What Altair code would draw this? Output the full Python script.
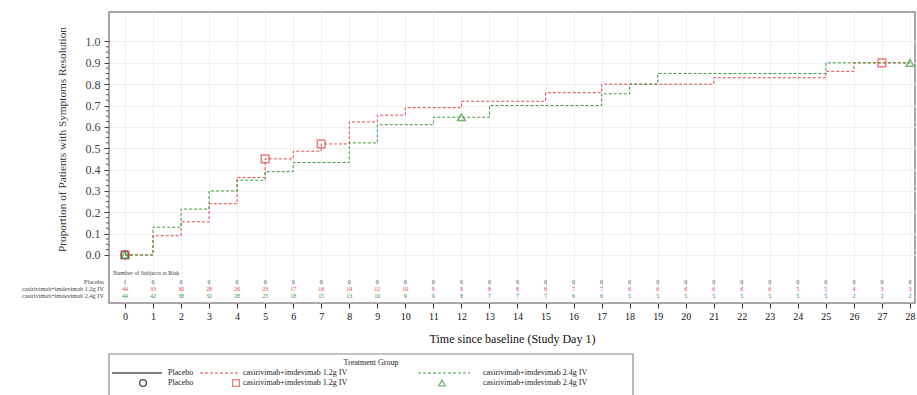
import altair as alt
import pandas as pd

G0 = "Placebo"
G1 = "casirivimab+imdevimab 1.2g IV"
G2 = "casirivimab+imdevimab 2.4g IV"
groups = [G0, G1, G2]
colors = ["#000000", "#e8464b", "#3c9c3c"]

days = list(range(0, 29))
placebo_days = [0, 0]
placebo_vals = [0.0, 0.0]
red_days = [0, 1, 2, 3, 4, 5, 6, 7, 8, 9, 10, 12, 15, 17, 21, 25, 26, 28]
red_vals = [0, 0.09, 0.155, 0.24, 0.363, 0.45, 0.486, 0.52, 0.623, 0.655, 0.69, 0.72, 0.76,
            0.80, 0.83, 0.86, 0.90, 0.90]
green_days = [0, 1, 2, 3, 4, 5, 6, 8, 9, 11, 13, 17, 18, 19, 25, 28]
green_vals = [0, 0.13, 0.215, 0.30, 0.35, 0.39, 0.433, 0.525, 0.61, 0.645, 0.70, 0.755,
              0.80, 0.85, 0.90, 0.90]

placebo_mark_days = [0]
placebo_mark_vals = [0.0]
red_mark_days = [0, 5, 7, 27]
red_mark_vals = [0.0, 0.45, 0.52, 0.90]
green_mark_days = [0, 12, 28]
green_mark_vals = [0.0, 0.645, 0.90]

risk_placebo = [1] + [0] * 28
risk_red = [44, 33, 30, 28, 26, 23, 17, 16, 14, 12, 10, 9, 9, 8, 8, 8, 7, 7, 6, 6, 6, 6, 6, 6,
            5, 5, 4, 3, 3]
risk_green = [44, 42, 38, 32, 28, 25, 18, 15, 13, 10, 9, 9, 8, 7, 7, 7, 6, 6, 5, 5, 5, 5, 5, 5,
              5, 5, 2, 2, 2]

y_ticks = [0.0, 0.1, 0.2, 0.3, 0.4, 0.5, 0.6, 0.7, 0.8, 0.9, 1.0]
y_minor = [0.025, 0.05, 0.075, 0.125, 0.15, 0.175, 0.225, 0.25, 0.275, 0.325, 0.35, 0.375,
           0.425, 0.45, 0.475, 0.525, 0.55, 0.575, 0.625, 0.65, 0.675, 0.725, 0.75, 0.775,
           0.825, 0.85, 0.875, 0.925, 0.95, 0.975]

FONT = "Liberation Serif"
W, H = 806, 291

lines_df = pd.DataFrame({
    "day": placebo_days + red_days + green_days,
    "p": placebo_vals + red_vals + green_vals,
    "group": [G0] * len(placebo_days) + [G1] * len(red_days) + [G2] * len(green_days),
})
marks_df = pd.DataFrame({
    "day": placebo_mark_days + red_mark_days + green_mark_days,
    "p": placebo_mark_vals + red_mark_vals + green_mark_vals,
    "group": [G0] * len(placebo_mark_days) + [G1] * len(red_mark_days) + [G2] * len(green_mark_days),
})

xscale = alt.Scale(domain=[-0.57, 28.18], nice=False, zero=False)
yscale = alt.Scale(domain=[-0.225, 1.138], nice=False, zero=False)
cscale = alt.Scale(domain=groups, range=colors)

x_axis = alt.Axis(values=days, format="d", title="Time since baseline (Study Day 1)",
                  titleFont=FONT, titleFontSize=12, titleFontWeight="normal",
                  titleColor="#111", titlePadding=12,
                  labelFont=FONT, labelFontSize=10, labelColor="#111",
                  labelOverlap=False, labelFlush=False,
                  tickSize=5, tickColor="#333", domain=False,
                  grid=True, gridColor="#efefef", labelPadding=3)
y_axis = alt.Axis(values=y_ticks, format=".1f",
                  title="Proportion of Patients with Symptoms Resolution",
                  titleFont=FONT, titleFontSize=11.3, titleFontWeight="normal",
                  titleColor="#333", titleX=-47, titleY=127, titleAngle=270,
                  titleAlign="center", titleBaseline="middle",
                  labelFont=FONT, labelFontSize=12, labelColor="#444",
                  labelOverlap=False, labelFlush=False,
                  tickSize=5, tickColor="#444", domain=False,
                  grid=True, gridColor="#efefef", labelPadding=4)


def X():
    return alt.X("day:Q", scale=xscale, axis=x_axis)


def Y():
    return alt.Y("p:Q", scale=yscale, axis=y_axis)


lines = alt.Chart(lines_df).mark_line(interpolate="step-after", strokeWidth=1).encode(
    x=X(), y=Y(),
    color=alt.Color("group:N", scale=cscale, legend=None),
    strokeDash=alt.StrokeDash("group:N", scale=alt.Scale(domain=groups, range=[[1, 0], [3, 2], [3, 2]]),
                              legend=None),
    detail="group:N",
)
points = alt.Chart(marks_df).mark_point(filled=False, size=60, strokeWidth=1.5).encode(
    x=X(), y=Y(),
    color=alt.Color("group:N", scale=cscale, legend=None),
    shape=alt.Shape("group:N", scale=alt.Scale(domain=groups, range=["circle", "square", "triangle-up"]),
                    legend=None),
)

minor = alt.Chart(pd.DataFrame({"p": y_minor})).mark_rule(color="#555", strokeWidth=1).encode(
    x=alt.value(-3), x2=alt.value(0), y=Y())

layers = [lines, points, minor]

# At-risk table
row_y = [270, 277, 284]
for vals, col, yy in zip([risk_placebo, risk_red, risk_green], ["#555555", "#e8464b", "#3c9c3c"], row_y):
    tdf = pd.DataFrame({"day": days, "n": vals})
    layers.append(alt.Chart(tdf).mark_text(font=FONT, fontSize=6, color=col, baseline="middle").encode(
        x=X(), y=alt.value(yy), text="n:Q"))

for g, yy in zip(groups, row_y):
    layers.append(alt.Chart(pd.DataFrame({"label": [g]})).mark_text(
        font=FONT, fontSize=6.3, color="#444", align="right", baseline="middle").encode(
        x=alt.value(-5), y=alt.value(yy), text="label:N"))
layers.append(alt.Chart(pd.DataFrame({"label": ["Number of Subjects at Risk"]})).mark_text(
    font=FONT, fontSize=6, color="#444", align="left", baseline="middle").encode(
    x=alt.value(4), y=alt.value(261), text="label:N"))

# Legend (drawn below the plot)
one = pd.DataFrame({"a": [0]})
layers.append(alt.Chart(one).mark_rect(fill="white", stroke="#888888", strokeWidth=1.2).encode(
    x=alt.value(0), x2=alt.value(524), y=alt.value(342), y2=alt.value(400)))
layers.append(alt.Chart(pd.DataFrame({"t": ["Treatment Group"]})).mark_text(
    font=FONT, fontSize=8, color="#222", align="center", baseline="middle").encode(
    x=alt.value(262), y=alt.value(351), text="t:N"))

leg_line_x = [(3, 53), (91, 129), (309, 361)]
leg_label_x = [59, 134, 374]
leg_mark_x = [34, 127, 333]
leg_dash = [[1, 0], [3, 2], [3, 2]]
leg_shape = ["circle", "square", "triangle-up"]
for i, g in enumerate(groups):
    gdf = pd.DataFrame({"group": [g]})
    layers.append(alt.Chart(gdf).mark_rule(strokeWidth=1, strokeDash=leg_dash[i]).encode(
        x=alt.value(leg_line_x[i][0]), x2=alt.value(leg_line_x[i][1]), y=alt.value(361),
        color=alt.Color("group:N", scale=cscale, legend=None)))
    for yy in [361, 371]:
        layers.append(alt.Chart(gdf).mark_text(font=FONT, fontSize=8, color="#222", align="left",
                                               baseline="middle").encode(
            x=alt.value(leg_label_x[i]), y=alt.value(yy), text="group:N"))
    layers.append(alt.Chart(gdf).mark_point(filled=False, size=45, strokeWidth=1.3,
                                            shape=leg_shape[i]).encode(
        x=alt.value(leg_mark_x[i]), y=alt.value(371),
        color=alt.Color("group:N", scale=cscale, legend=None)))

chart = alt.layer(*layers).properties(
    width=W, height=H,
    autosize=alt.AutoSizeParams(type="none"),
    padding={"left": 109, "top": 12, "right": 2, "bottom": 92},
    background="white",
).configure_view(stroke="#8a8a8a", strokeWidth=1.5)

chart.save("out.html", embed_options={"renderer": "svg", "actions": False})
